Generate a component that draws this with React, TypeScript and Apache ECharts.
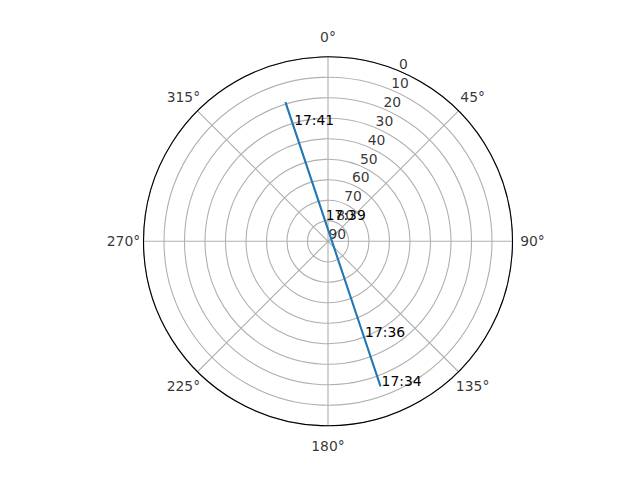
import { useEffect, useRef } from 'react'
import * as echarts from 'echarts'

// satellite pass: [elevation, azimuth]
const passTimes = ['17:34', '17:36', '17:39', '17:41', '']
const elevations = [14.7, 40.0, 79.3, 30.8, 19.0]
const azimuths = [160.1, 159.4, 351.4, 343.3, 343.0]

// axes
const radialTicks = [0, 10, 20, 30, 40, 50, 60, 70, 80, 90]
const angleTicks = [0, 45, 90, 135, 180, 225, 270, 315]
const radialLabelAngle = 22.5
const angleLabelRadius = -9.76 // just outside the outer ring (elevation 0)

const FONT = 'DejaVu Sans'
const FONT_SIZE = 13.9
const GRID = '#b0b0b0'

const labelText = {
  color: '#000',
  fontFamily: FONT,
  fontSize: FONT_SIZE,
  textBorderWidth: 0,
  textShadowBlur: 0
}

const App: React.FC = () => {
  const chartRef = useRef<HTMLDivElement | null>(null)

  useEffect(() => {
    if (chartRef.current === null) return
    const chart = echarts.init(chartRef.current, undefined, { renderer: 'svg' })

    const passData = elevations.map((e, i) => ({ value: [e, azimuths[i]], name: passTimes[i] }))
    const radialData = radialTicks.map(v => ({ value: [v, radialLabelAngle], name: String(v) }))
    const angleData = angleTicks.map(a => ({ value: [angleLabelRadius, a], name: a + '°' }))

    chart.setOption({
      animation: false,
      textStyle: { fontFamily: FONT, fontSize: FONT_SIZE, color: '#000' },
      polar: { center: [328, 241.3], radius: 184.5 },
      angleAxis: {
        type: 'value',
        min: 0,
        max: 360,
        interval: 45,
        startAngle: 90,
        clockwise: true,
        axisLine: { show: true, lineStyle: { color: '#000', width: 1.1 } },
        axisTick: { show: false },
        axisLabel: { show: false },
        splitLine: { show: true, lineStyle: { color: GRID, width: 1.1 } }
      },
      radiusAxis: {
        type: 'value',
        min: 0,
        max: 90,
        interval: 10,
        inverse: true,
        axisLine: { show: false },
        axisTick: { show: false },
        axisLabel: { show: false },
        splitLine: { show: true, lineStyle: { color: GRID, width: 1.1 } }
      },
      series: [
        {
          type: 'line',
          coordinateSystem: 'polar',
          data: passData,
          symbol: 'circle',
          symbolSize: 0,
          showSymbol: true,
          lineStyle: { color: '#1f77b4', width: 2.1 },
          itemStyle: { color: '#1f77b4' },
          z: 5,
          label: {
            show: true,
            position: 'inside',
            align: 'left',
            verticalAlign: 'bottom',
            offset: [1, 2],
            formatter: '{b}',
            ...labelText
          }
        },
        {
          // radial tick labels
          type: 'scatter',
          coordinateSystem: 'polar',
          data: radialData,
          symbolSize: 0,
          silent: true,
          clip: false,
          z: 4,
          label: {
            show: true,
            position: 'inside',
            align: 'left',
            verticalAlign: 'middle',
            offset: [0.5, -7],
            formatter: '{b}',
            ...labelText
          }
        },
        {
          // angle tick labels
          type: 'scatter',
          coordinateSystem: 'polar',
          data: angleData,
          symbolSize: 0,
          silent: true,
          clip: false,
          z: 4,
          label: {
            show: true,
            position: 'inside',
            align: 'center',
            verticalAlign: 'middle',
            formatter: '{b}',
            ...labelText
          }
        }
      ]
    })

    return () => {
      chart.dispose()
    }
  }, [])

  return (
    <div
      ref={chartRef}
      style={{ position: 'fixed', left: 0, top: 0, width: 640, height: 480, background: '#fff' }}
    ></div>
  )
}

export default App
